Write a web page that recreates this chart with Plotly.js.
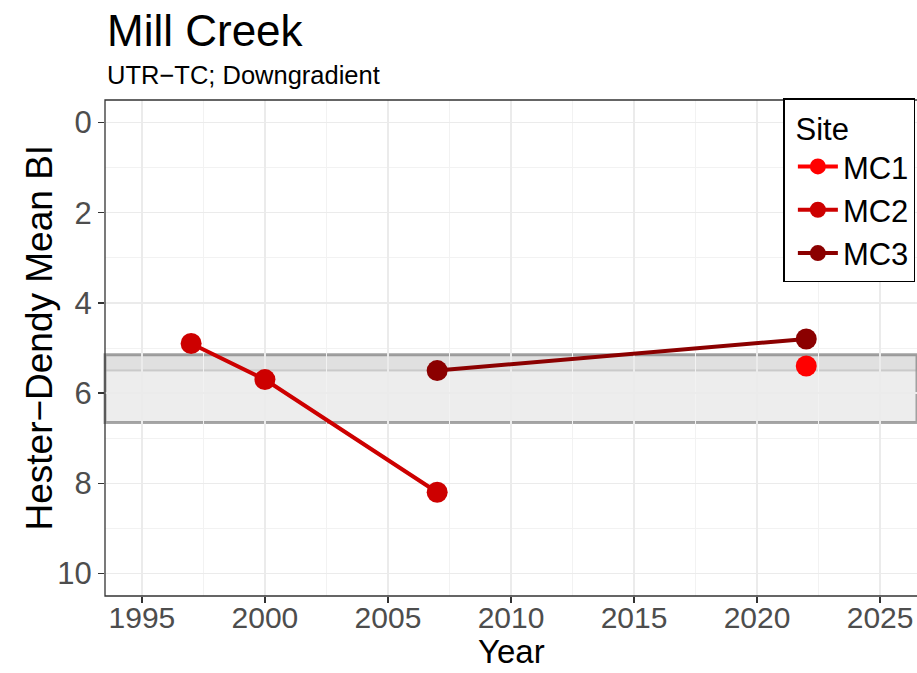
<!DOCTYPE html>
<html>
<head>
<meta charset="utf-8">
<script src="https://cdn.plot.ly/plotly-3.0.1.min.js"></script>
<style>html,body{margin:0;padding:0;background:#fff;overflow:hidden}#chart{width:917px;height:673px}</style>
</head>
<body>
<div id="chart"></div>
<script>
// Data
const sites = ["MC1", "MC2", "MC3"];
const siteColors = ["#FF0000", "#CD0000", "#8B0000"];
const mc1Years = [2022];
const mc1Values = [5.4];
const mc2Years = [1997, 2000, 2007];
const mc2Values = [4.9, 5.7, 8.2];
const mc3Years = [2007, 2022];
const mc3Values = [5.5, 4.8];
const bandOuter = [5.15, 6.65];
const bandInner = [5.15, 5.5];
const xTicks = [1995, 2000, 2005, 2010, 2015, 2020, 2025];
const yTicks = [0, 2, 4, 6, 8, 10];

const FONT = "Liberation Sans, Arial, Helvetica, sans-serif";
const seriesX = [mc1Years, mc2Years, mc3Years];
const seriesY = [mc1Values, mc2Values, mc3Values];

const traces = sites.map((s, i) => ({
  type: "scatter",
  mode: "lines+markers",
  name: s,
  x: seriesX[i],
  y: seriesY[i],
  line: {color: siteColors[i], width: 4},
  marker: {color: siteColors[i], size: 21},
  cliponaxis: false
}));

const layout = {
  width: 917, height: 673,
  margin: {l: 105, r: 0, t: 100, b: 77},
  paper_bgcolor: "#fff", plot_bgcolor: "#fff",
  font: {family: FONT, color: "#000"},
  showlegend: true,
  legend: {
    x: 0.998, xanchor: "right", y: 1.004, yanchor: "top",
    bordercolor: "#000", borderwidth: 1.5, bgcolor: "#fff",
    font: {size: 31, color: "#000", family: FONT},
    title: {text: "&nbsp;Site", font: {size: 31, color: "#000", family: FONT}},
    itemwidth: 40, indentation: 8, tracegroupgap: 0
  },
  xaxis: {
    range: [1993.5, 2026.5],
    tickvals: xTicks, ticktext: xTicks.map(String),
    ticks: "outside", ticklen: 6, tickwidth: 1.2, tickcolor: "#333",
    ticklabelstandoff: -11,
    tickfont: {size: 30, color: "#4D4D4D", family: FONT},
    showgrid: true, gridcolor: "#EBEBEB", gridwidth: 1.5,
    minor: {dtick: 2.5, tick0: 1997.5, showgrid: true, gridcolor: "#F2F2F2", gridwidth: 1, ticks: ""},
    zeroline: false, showline: false
  },
  yaxis: {
    range: [10.5, -0.5],
    tickvals: yTicks, ticktext: yTicks.map(String),
    ticks: "outside", ticklen: 6, tickwidth: 1.2, tickcolor: "#333",
    tickfont: {size: 31, color: "#4D4D4D", family: FONT},
    showgrid: true, gridcolor: "#EBEBEB", gridwidth: 1.5,
    minor: {dtick: 1, tick0: 1, showgrid: true, gridcolor: "#F2F2F2", gridwidth: 1, ticks: ""},
    zeroline: false, showline: false
  },
  shapes: [
    {type: "rect", xref: "paper", x0: 0, x1: 1, yref: "y", y0: bandOuter[0], y1: bandOuter[1],
     fillcolor: "rgba(128,128,128,0.14)", line: {color: "rgba(110,110,110,0.6)", width: 3}, layer: "between"},
    {type: "rect", xref: "paper", x0: 0, x1: 1, yref: "y", y0: bandInner[0], y1: bandInner[1],
     fillcolor: "rgba(128,128,128,0.12)", line: {color: "rgba(150,150,150,0.35)", width: 2}, layer: "between"},
    {type: "rect", xref: "paper", x0: 0, x1: 1.02, yref: "paper", y0: 0, y1: 1,
     line: {color: "#333", width: 1.3}, fillcolor: "rgba(0,0,0,0)", layer: "above"}
  ],
  annotations: [
    {text: "Mill Creek", xref: "paper", yref: "paper", x: 0, y: 1 + 70/497, xanchor: "left", yanchor: "middle",
     showarrow: false, font: {size: 44, color: "#000", family: FONT}},
    {text: "UTR\u2212TC; Downgradient", xref: "paper", yref: "paper", x: 0, y: 1 + 25/497, xanchor: "left", yanchor: "middle",
     showarrow: false, font: {size: 25.5, color: "#000", family: FONT}},
    {text: "Year", xref: "paper", yref: "paper", x: (511 - 105)/812, y: (597 - 673)/497, xanchor: "center", yanchor: "bottom",
     showarrow: false, font: {size: 33, color: "#000", family: FONT}},
    {text: "Hester\u2212Dendy Mean BI", xref: "paper", yref: "paper", x: (40 - 105)/812, y: (597 - 338)/497,
     xanchor: "center", yanchor: "middle", textangle: -90,
     showarrow: false, font: {size: 37, color: "#000", family: FONT}}
  ]
};

Plotly.newPlot("chart", traces, layout, {displayModeBar: false, staticPlot: true});
</script>
</body>
</html>
